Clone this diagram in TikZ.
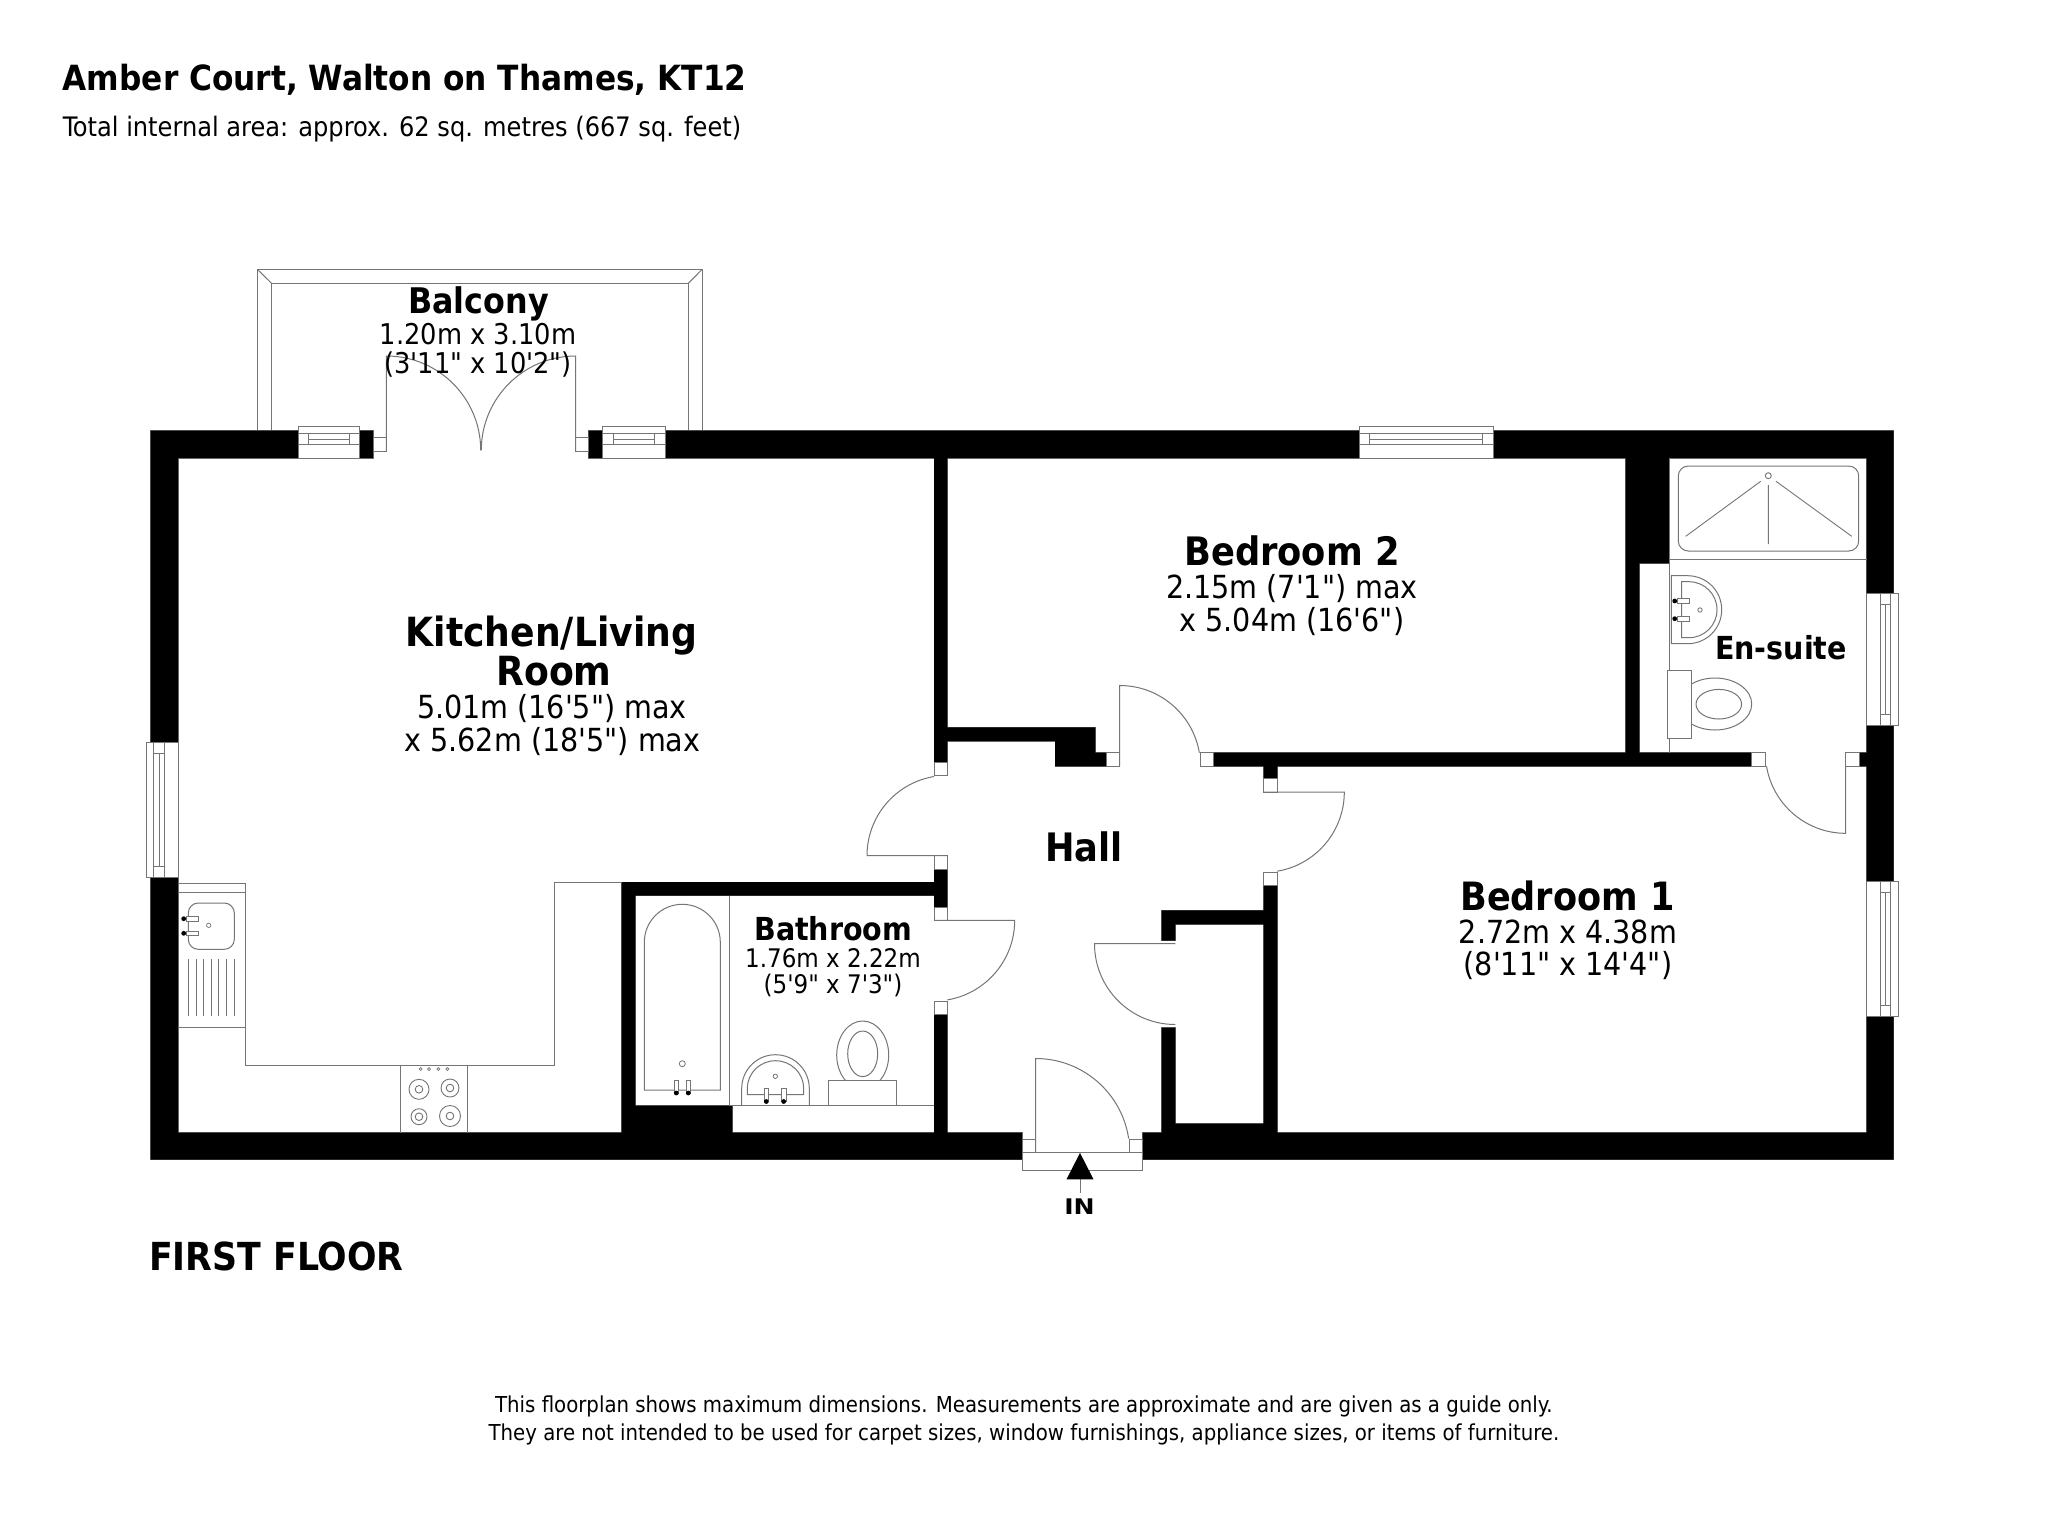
\documentclass[tikz,border=0pt]{standalone}
\usepackage{fontspec}
\usepackage{graphicx}
\setmainfont{DejaVu Sans Condensed}[Ligatures=TeXOff]
\definecolor{ln}{HTML}{757575}
\tikzset{
  plan/.style={draw=ln,line width=1pt},
  frame/.style={plan,fill=white},
  txt/.style={inner sep=0pt,anchor=base,align=center,text=black},
  rm/.style={txt,font=\fontsize{39.2}{40}\selectfont\bfseries},
  rms/.style={txt,font=\fontsize{31.7}{32}\selectfont\bfseries},
  dmb/.style={txt,font=\fontsize{31.8}{32}\selectfont},
  dm/.style={txt,font=\fontsize{28.6}{29}\selectfont},
  dms/.style={txt,font=\fontsize{25.6}{26}\selectfont},
  foot/.style={txt,font=\fontsize{21.95}{22}\selectfont},
  dot/.style={fill=black,draw=none}
}
\newcommand{\wallshape}{
  (150.6,430.7) rectangle (298.4,458)
  (359.7,430.7) rectangle (373.2,458)
  (588.7,430.7) rectangle (602.5,458)
  (665,430.7) rectangle (1359,458)
  (1493.3,430.7) rectangle (1893.7,458)
  (150.6,430.7) rectangle (178,742.7)
  (150.6,877.3) rectangle (178,1159.6)
  (150.6,1132.6) rectangle (1022,1159.6)
  (1142.7,1132.6) rectangle (1893.7,1159.6)
  (1866.7,430.7) rectangle (1893.7,593.3)
  (1866.7,725.3) rectangle (1893.7,881.3)
  (1866.7,1016) rectangle (1893.7,1159.6)
  (934,458) rectangle (947.3,762)
  (934,869) rectangle (947.3,907)
  (934,1014.3) rectangle (947.3,1132.6)
  (621.7,882) rectangle (934,895.7)
  (621.7,882) rectangle (635.3,1132.6)
  (635.3,1105.5) rectangle (732.3,1132.6)
  (947.3,727.3) rectangle (1095.3,741)
  (1055,727.3) rectangle (1095.3,766.3)
  (1095.3,752.7) rectangle (1106.7,766.3)
  (1213.7,752.7) rectangle (1751.7,766.3)
  (1859,752.7) rectangle (1866.7,766.3)
  (1263.7,766.3) rectangle (1277.3,778.3)
  (1263.7,885.7) rectangle (1277.3,1132.6)
  (1161.5,910.3) rectangle (1263.7,924.3)
  (1161.5,910.3) rectangle (1175.3,940.7)
  (1161.5,1027.7) rectangle (1175.3,1132.6)
  (1161.5,1123.5) rectangle (1277.3,1132.6)
  (1625.7,458) rectangle (1669,563.3)
  (1625.7,563.3) rectangle (1639.3,752.7)
}
\newcommand{\taph}[2]{% horizontal tap, dot at left
  \draw[frame,line width=.8pt] (#1+3,#2-2.3) rectangle (#1+15,#2+2.3);
  \fill[dot] (#1,#2) circle[radius=2.4];}
\newcommand{\tapv}[2]{% vertical tap, dot at bottom
  \draw[frame,line width=.8pt] (#1-2.3,#2-13) rectangle (#1+2.3,#2);
  \fill[dot] (#1,#2) circle[radius=2.4];}
\begin{document}
\begin{tikzpicture}[x=1pt,y=-1pt]
\useasboundingbox (0,0) rectangle (2048,1521);
\fill[white] (0,0) rectangle (2048,1521);
% balcony
\draw[plan] (257.3,430.7) -- (257.3,269.3) -- (702.2,269.3) -- (702.2,430.7);
\draw[plan] (271.6,430.7) -- (271.6,283.3) -- (688.3,283.3) -- (688.3,430.7);
\draw[plan] (257.3,269.3) -- (271.6,283.3) (702.2,269.3) -- (688.3,283.3);
% walls
\draw[draw=ln,line width=1pt] \wallshape;
\fill[black] \wallshape;
% top windows
\foreach \xa/\xb in {298.4/359.7,602.5/665,1359/1493.3}{
  \draw[frame] (\xa,426.7) rectangle (\xb,458);
  \draw[plan] (\xa,433.4) -- (\xb,433.4) (\xa,444.4) -- (\xb,444.4);
  \draw[plan] (\xa+10.5,433.4) -- (\xa+10.5,444.4) (\xb-10.5,433.4) -- (\xb-10.5,444.4);
  \draw[plan] (\xa+10.5,439) -- (\xb-10.5,439);
}
% left window
\draw[frame] (146.3,742.7) rectangle (178,877.3);
\draw[plan] (153.3,742.7) -- (153.3,877.3) (164.3,742.7) -- (164.3,877.3);
\draw[plan] (153.3,753.7) -- (164.3,753.7) (153.3,866.7) -- (164.3,866.7);
\draw[plan] (159,753.7) -- (159,866.7);
% right windows
\foreach \ya/\yb in {593.3/725.3,881.3/1016}{
  \draw[frame] (1866.7,\ya) rectangle (1898.3,\yb);
  \draw[plan] (1880,\ya) -- (1880,\yb) (1890.7,\ya) -- (1890.7,\yb);
  \draw[plan] (1880,\ya+11) -- (1890.7,\ya+11) (1880,\yb-11) -- (1890.7,\yb-11);
  \draw[plan] (1885.3,\ya+11) -- (1885.3,\yb-11);
}
% door stubs
\foreach \a/\b/\c/\d in {373.2/437.5/386.4/451.2,575.6/437.5/588.7/451.2,
  934/762/947.3/775.3,934/855.7/947.3/869,934/907/947.3/920.3,934/1001/947.3/1014.3,
  1106.7/752.7/1119.7/766.3,1200.3/752.7/1213.7/766.3,
  1263.7/778.3/1277.3/792,1263.7/872/1277.3/885.7,
  1751.7/752.7/1765/766.3,1845.7/752.7/1859/766.3,
  1022/1139.5/1035.7/1152.9,1129.3/1139.5/1142.7/1152.9,
  1022/1152.9/1142.7/1170.3}{
  \draw[frame] (\a,\b) rectangle (\c,\d);
}
% doors
\draw[plan] (386.4,451.2) -- (386.4,356) arc[start angle=-90,end angle=0,radius=94.3];
\draw[plan] (575.6,451.2) -- (575.6,356) arc[start angle=-90,end angle=-180,radius=94.3];
\draw[plan] (947.3,855.7) -- (867,855.7) arc[start angle=180,end angle=260.5,radius=80.3];
\draw[plan] (1119.7,766.3) -- (1119.7,685.5) arc[start angle=-90,end angle=-9.7,radius=80.8];
\draw[plan] (1264,792) -- (1344.3,792) arc[start angle=0,end angle=80.5,radius=80.3];
\draw[plan] (934,920.3) -- (1014.7,920.3) arc[start angle=0,end angle=80.5,radius=80.7];
\draw[plan] (1845.7,766.3) -- (1845.7,833.3) arc[start angle=90,end angle=170.5,radius=80.3];
\draw[plan] (1175.3,943.7) -- (1094.5,943.7) arc[start angle=180,end angle=90,radius=80.8];
\draw[plan] (1035.7,1152.9) -- (1035.7,1058.5) arc[start angle=-90,end angle=-8.5,radius=94];
% IN arrow
\draw[plan] (1080,1179.3) -- (1080,1192.7);
\fill[black] (1080,1152.9) -- (1093.5,1179.3) -- (1066.5,1179.3) -- cycle;
% kitchen units
\draw[plan] (178,883.3) -- (245,883.3) -- (245,1065) -- (554.3,1065) -- (554.3,882) -- (621.7,882);
\draw[plan] (178,892.3) -- (245,892.3) (178,1027) -- (245,1027);
\draw[plan,rounded corners=10pt] (188.3,903) rectangle (234.3,949.3);
\taph{183.7}{918.7}
\taph{183.7}{933.3}
\draw[plan,line width=.7pt] (208.7,925.3) circle[radius=2.2];
\foreach \x in {188.3,196,203.3,211,218.3,226,234.3}{\draw[plan,line width=.8pt] (\x,959.3) -- (\x,1016.3);}
% hob
\draw[plan] (400.3,1132.6) -- (400.3,1065) (467.7,1132.6) -- (467.7,1065);
\foreach \x in {420.7,429,438.3,447.3}{\draw[plan,line width=.7pt] (\x,1069) circle[radius=1.5];}
\foreach \x/\y/\r in {419/1089.3/10,450/1088/9,419/1116.7/8,450/1116/10.5}{
  \draw[plan,line width=.9pt] (\x,\y) circle[radius=\r];
  \draw[plan,line width=.9pt] (\x,\y) circle[radius=3.8];
}
% bathroom
\draw[plan] (729.7,895.7) -- (729.7,1105.5) -- (934,1105.5);
\draw[plan] (644.3,1090) -- (644.3,942.3) arc[start angle=180,end angle=360,x radius=38,y radius=38] -- (720.3,1090) -- cycle;
\draw[plan,line width=.8pt] (682.3,1063.7) circle[radius=3];
\tapv{676.3}{1093}
\tapv{688.3}{1093}
\draw[plan] (741.7,1105.5) -- (741.7,1088.5) arc[start angle=180,end angle=360,x radius=33.8,y radius=33.8] -- (809.3,1105.5);
\draw[plan] (747.3,1094.7) -- (747.3,1088.5) arc[start angle=180,end angle=360,x radius=28.2,y radius=27.8] -- (803.7,1094.7) -- cycle;
\draw[plan,line width=.8pt] (775.3,1076.3) circle[radius=2.2];
\tapv{766.3}{1101.5}
\tapv{783.7}{1101.5}
\begin{scope}
\clip (820,1000) rectangle (900,1080.7);
\draw[plan] (862.7,1055) ellipse[x radius=26,y radius=34];
\end{scope}
\draw[plan] (862.7,1053.8) ellipse[x radius=15,y radius=22.8];
\draw[plan] (828.7,1105.5) -- (828.7,1080.7) -- (896.3,1080.7) -- (896.3,1105.5);
% en-suite
\draw[plan] (1669,458) -- (1669,752.7);
\draw[plan] (1669,559.3) -- (1866.7,559.3);
\draw[plan,rounded corners=10pt] (1678.3,466) rectangle (1858.7,551);
\draw[plan,line width=.9pt] (1768.3,475.7) circle[radius=3];
\draw[plan,line width=.9pt] (1768.3,485) -- (1768.3,544)
  (1760.7,481.3) -- (1685.7,536.3) (1776,481.3) -- (1851.7,536.3);
\draw[plan] (1671.3,575.7) -- (1687.7,575.7) arc[start angle=-90,end angle=90,x radius=34,y radius=34] -- (1671.3,643.7) -- cycle;
\draw[plan] (1681.7,581.7) -- (1689,581.7) arc[start angle=-90,end angle=90,x radius=28,y radius=28] -- (1681.7,637.7) -- cycle;
\taph{1674.7}{601}
\taph{1674.7}{618.7}
\draw[plan,line width=.8pt] (1700,610) circle[radius=2.2];
\begin{scope}
\clip (1691.7,660) rectangle (1760,745);
\draw[plan] (1715,704) ellipse[x radius=36.7,y radius=26];
\end{scope}
\draw[plan] (1718.8,704.2) ellipse[x radius=22.8,y radius=14.8];
\draw[frame] (1667,670.3) rectangle (1691.7,738);
% text
\node[anchor=base west,inner sep=0pt,font=\fontsize{34.7}{35}\selectfont\bfseries] (title) at (62.6,90) {Amber Court, Walton on Thames, KT12};
\node[anchor=base west,inner sep=0pt,font=\fontsize{26.8}{27}\selectfont] (sub) at (62.6,136.5) {Total internal area: approx. 62 sq. metres (667 sq. feet)};
\node[rm,font=\fontsize{35.3}{36}\selectfont\bfseries] (balc) at (478.5,313.3) {Balcony};
\node[dm] (balc1) at (478,344.3) {1.20m x 3.10m};
\node[dm] (balc2) at (478,373) {(3'11" x 10'2")};
\node[rm,font=\fontsize{40.2}{40}\selectfont\bfseries] (kit1) at (551.5,646) {Kitchen/Living};
\node[rm,font=\fontsize{40.2}{40}\selectfont\bfseries] (kit2) at (554,685.6) {Room};
\node[dmb] (kit3) at (552,718.5) {5.01m (16'5") max};
\node[dmb] (kit4) at (552.5,751.5) {x 5.62m (18'5") max};
\node[rm] (bed2) at (1292,565.5) {Bedroom 2};
\node[dmb] (bed2a) at (1292,598.5) {2.15m (7'1") max};
\node[dmb] (bed2b) at (1292,631) {x 5.04m (16'6")};
\node[rm,font=\fontsize{39}{40}\selectfont\bfseries] (bed1) at (1567.5,910) {Bedroom 1};
\node[dmb] (bed1a) at (1568,943) {2.72m x 4.38m};
\node[dmb] (bed1b) at (1568,975.6) {(8'11" x 14'4")};
\node[rm] (hall) at (1084,861.7) {Hall};
\node[rms] (bath) at (833.3,940.2) {Bathroom};
\node[dms] (bath1) at (833,967.7) {1.76m x 2.22m};
\node[dms] (bath2) at (833,993.7) {(5'9" x 7'3")};
\node[rms] (ens) at (1781,659.7) {En-suite};
\node[txt,font=\fontsize{21.5}{22}\selectfont\bfseries] (in) at (1079.5,1214) {\scalebox{1.3}[1]{IN}};
\node[anchor=base west,inner sep=0pt,font=\fontsize{38.6}{39}\selectfont\bfseries] (floor) at (149,1270.7) {FIRST FLOOR};
\node[foot] (f1) at (1024,1412) {This floorplan shows maximum dimensions. Measurements are approximate and are given as a guide only.};
\node[foot] (f2) at (1024,1440) {They are not intended to be used for carpet sizes, window furnishings, appliance sizes, or items of furniture.};
\end{tikzpicture}
\end{document}
